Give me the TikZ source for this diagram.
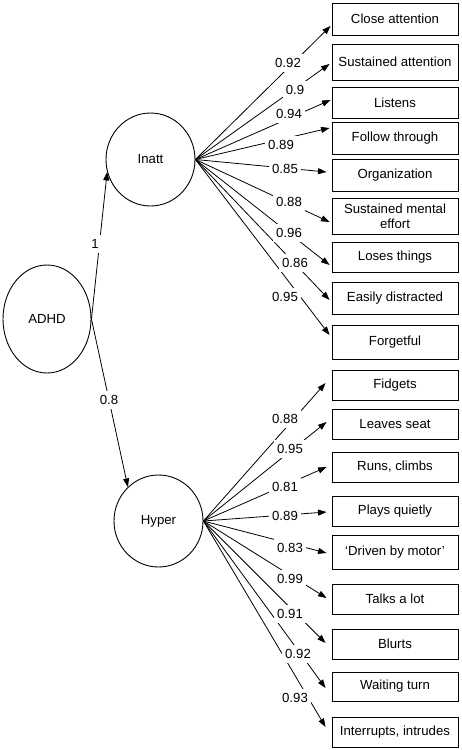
\documentclass[tikz,border=0pt]{standalone}
\usepackage{fontspec}
\setmainfont{Liberation Sans}
\usetikzlibrary{arrows.meta,shapes.geometric}
\begin{document}
\begin{tikzpicture}[x=1pt,y=-1pt,
  every node/.style={font=\fontsize{13.2}{15}\selectfont},
  item/.style={draw, line width=0.9pt, minimum width=126pt, inner sep=1pt, align=center},
  latent/.style={draw, ellipse, line width=0.9pt, inner sep=0pt},
  conn/.style={line width=0.8pt, -{Triangle[length=8.5pt,width=6pt]}},
  lab/.style={fill=white, inner xsep=3pt, inner ysep=4pt}]
\useasboundingbox (0,0) rectangle (462,750);

% latent variables
\node[latent, minimum width=88pt, minimum height=108pt] (ADHD) at (47,319) {ADHD};
\node[latent, minimum width=89pt, minimum height=93pt] (Inatt) at (150.5,159.5) {Inatt};
\node[latent, minimum width=89pt, minimum height=92pt] (Hyper) at (158.5,521) {Hyper};

% indicator boxes
\node[item, minimum height=32pt] (i1) at (395,19) {Close attention};
\node[item, minimum height=36pt] (i2) at (395,62) {Sustained attention};
\node[item, minimum height=31pt] (i3) at (395,102.5) {Listens};
\node[item, minimum height=32pt] (i4) at (395,138) {Follow through};
\node[item, minimum height=32pt] (i5) at (395,175) {Organization};
\node[item, minimum height=36pt] (i6) at (395,216) {Sustained mental\\effort};
\node[item, minimum height=30pt] (i7) at (395,257) {Loses things};
\node[item, minimum height=32pt] (i8) at (395,298) {Easily distracted};
\node[item, minimum height=34pt] (i9) at (395,342) {Forgetful};

\node[item, minimum height=30pt] (h1) at (395,385) {Fidgets};
\node[item, minimum height=30pt] (h2) at (395,424) {Leaves seat};
\node[item, minimum height=30pt] (h3) at (395,467) {Runs, climbs};
\node[item, minimum height=30pt] (h4) at (395,511) {Plays quietly};
\node[item, minimum height=34pt] (h5) at (395,552) {‘Driven by motor’};
\node[item, minimum height=30pt] (h6) at (395,599) {Talks a lot};
\node[item, minimum height=30pt] (h7) at (395,644) {Blurts};
\node[item, minimum height=29pt] (h8) at (395,686.5) {Waiting turn};
\node[item, minimum height=30pt] (h9) at (395,732) {Interrupts, intrudes};

% second-order paths
\draw[conn] (ADHD.east) -- (Inatt.196);
\draw[conn] (ADHD.east) -- (Hyper.132);
\node[lab] (l0a) at (95,244) {1};
\node[lab] (l0b) at (109,400) {0.8};

% Inatt loadings
\draw[conn] (Inatt.east) -- ([xshift=-1pt,yshift=-7pt]i1.west);
\draw[conn] (Inatt.east) -- ([xshift=-2pt,yshift=-2pt]i2.west);
\draw[conn] (Inatt.east) -- ([xshift=-1pt,yshift=2.5pt]i3.west);
\draw[conn] (Inatt.east) -- ([xshift=-2pt,yshift=10pt]i4.west);
\draw[conn] (Inatt.east) -- ([xshift=-5pt,yshift=3pt]i5.west);
\draw[conn] (Inatt.east) -- ([xshift=-2pt,yshift=-6pt]i6.west);
\draw[conn] (Inatt.east) -- ([xshift=-2pt,yshift=-8pt]i7.west);
\draw[conn] (Inatt.east) -- ([xshift=-2pt,yshift=-2pt]i8.west);
\draw[conn] (Inatt.east) -- ([xshift=-2pt,yshift=7pt]i9.west);

\node[lab] (la1) at (288,63) {0.92};
\node[lab] (la2) at (295,90) {0.9};
\node[lab] (la3) at (289,114) {0.94};
\node[lab] (la4) at (281,145) {0.89};
\node[lab] (la5) at (285,169) {0.85};
\node[lab] (la6) at (289,202) {0.88};
\node[lab] (la7) at (289,233) {0.96};
\node[lab] (la8) at (295,263) {0.86};
\node[lab] (la9) at (285,297) {0.95};

% Hyper loadings
\draw[conn] (Hyper.east) -- ([xshift=-6pt,yshift=2pt]h1.west);
\draw[conn] (Hyper.east) -- ([xshift=-5pt,yshift=2pt]h2.west);
\draw[conn] (Hyper.east) -- ([xshift=-5pt,yshift=0pt]h3.west);
\draw[conn] (Hyper.east) -- ([xshift=-5pt,yshift=-1pt]h4.west);
\draw[conn] (Hyper.east) -- ([xshift=-5pt,yshift=-1pt]h5.west);
\draw[conn] (Hyper.east) -- ([xshift=-5pt,yshift=1pt]h6.west);
\draw[conn] (Hyper.east) -- ([xshift=-6pt,yshift=1pt]h7.west);
\draw[conn] (Hyper.east) -- ([xshift=-6pt,yshift=-1.5pt]h8.west);
\draw[conn] (Hyper.east) -- ([xshift=-6pt,yshift=5pt]h9.west);

\node[lab] (lb1) at (285,419) {0.88};
\node[lab] (lb2) at (290,449) {0.95};
\node[lab] (lb3) at (285,487) {0.81};
\node[lab] (lb4) at (285,516) {0.89};
\node[lab] (lb5) at (290,548) {0.83};
\node[lab] (lb6) at (290,579) {0.99};
\node[lab] (lb7) at (290,614) {0.91};
\node[lab] (lb8) at (298,654) {0.92};
\node[lab] (lb9) at (295,698) {0.93};
\end{tikzpicture}
\end{document}
